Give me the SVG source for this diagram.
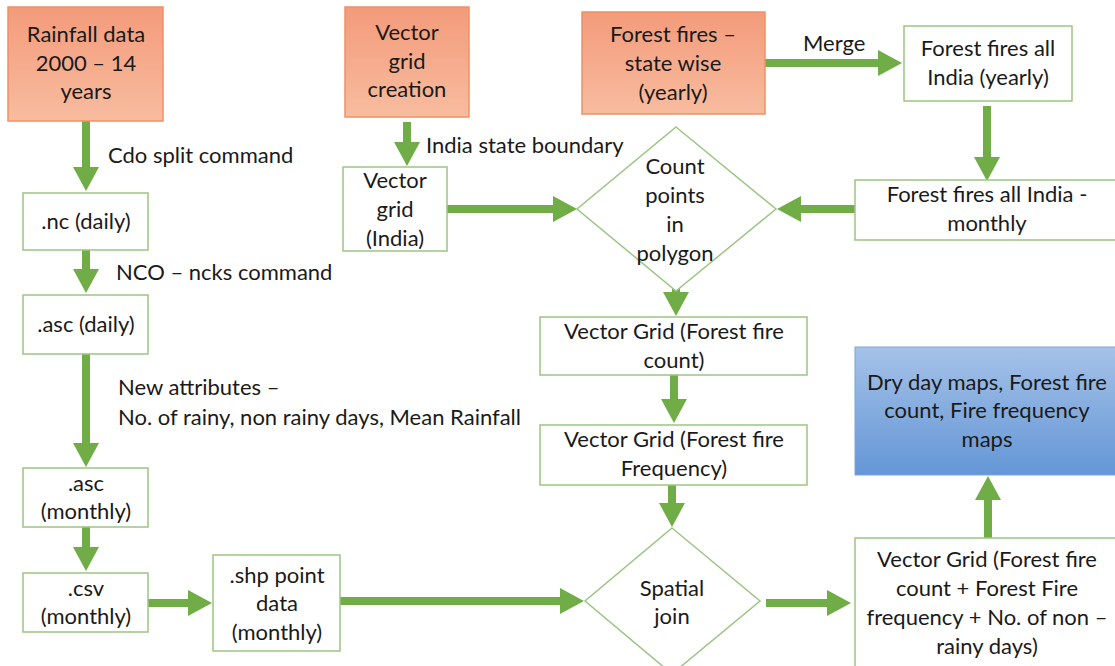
<svg xmlns="http://www.w3.org/2000/svg" width="1115" height="666" viewBox="0 0 1115 666">
<style>
text{font-family:Lato,"Liberation Sans",sans-serif;font-size:22px;fill:#1a1a1a}
.c{text-anchor:middle}
.box{fill:#fff;stroke:#9cc583;stroke-width:1.5}
.src{fill:url(#orange);stroke:#ee9066;stroke-width:1.5}
.out{fill:url(#blue);stroke:#7da4d6;stroke-width:1}
.ar{stroke:#70ad47;stroke-width:8;fill:none;marker-end:url(#ah)}
</style>
<defs>
<linearGradient id="orange" x1="0" y1="0" x2="0" y2="1">
<stop offset="0" stop-color="#f39b7b"/>
<stop offset="1" stop-color="#f8bc9f"/>
</linearGradient>
<linearGradient id="blue" x1="0" y1="0" x2="0" y2="1">
<stop offset="0" stop-color="#a5c2e8"/>
<stop offset="1" stop-color="#6496d6"/>
</linearGradient>
<marker id="ah" markerUnits="userSpaceOnUse" viewBox="0 -13 24 26" markerWidth="24" markerHeight="26" refX="1" refY="0" orient="auto">
<path d="M0,-13 L24,0 L0,13 Z" fill="#70ad47"/>
</marker>
</defs>

<g id="connectors">
<line class="ar" x1="86" y1="121" x2="86" y2="168"/>
<line class="ar" x1="86" y1="250" x2="86" y2="270"/>
<line class="ar" x1="86" y1="354" x2="86" y2="444"/>
<line class="ar" x1="86" y1="527" x2="86" y2="548"/>
<line class="ar" x1="148" y1="603" x2="189" y2="603"/>
<line class="ar" x1="340" y1="601" x2="561" y2="601"/>
<line class="ar" x1="407" y1="122" x2="407" y2="143"/>
<line class="ar" x1="447" y1="209" x2="554" y2="209"/>
<line class="ar" x1="765" y1="63" x2="879" y2="63"/>
<line class="ar" x1="987" y1="106" x2="987" y2="158"/>
<line class="ar" x1="855" y1="209" x2="800" y2="209"/>
<line class="ar" x1="676" y1="280" x2="676" y2="293"/>
<line class="ar" x1="674" y1="375" x2="674" y2="400"/>
<line class="ar" x1="672" y1="485" x2="672" y2="504"/>
<line class="ar" x1="766" y1="603" x2="828" y2="603"/>
<line class="ar" x1="988" y1="538" x2="988" y2="499"/>
</g>

<g id="rainfall">
<rect class="src" x="8" y="7" width="155" height="114"/>
<text class="c" x="86" y="42">Rainfall data</text>
<text class="c" x="86" y="71">2000 – 14</text>
<text class="c" x="86" y="99">years</text>
</g>
<text x="108" y="163">Cdo split command</text>
<g id="nc-daily">
<rect class="box" x="23" y="193" width="125" height="57"/>
<text class="c" x="86" y="229">.nc (daily)</text>
</g>
<text x="116" y="280">NCO – ncks command</text>
<g id="asc-daily">
<rect class="box" x="23" y="295" width="125" height="59"/>
<text class="c" x="86" y="332">.asc (daily)</text>
</g>
<text x="118" y="395">New attributes –</text>
<text x="118" y="425">No. of rainy, non rainy days, Mean Rainfall</text>
<g id="asc-monthly">
<rect class="box" x="23" y="468" width="125" height="59"/>
<text class="c" x="86" y="491">.asc</text>
<text class="c" x="86" y="519">(monthly)</text>
</g>
<g id="csv-monthly">
<rect class="box" x="23" y="573" width="125" height="59"/>
<text class="c" x="86" y="596">.csv</text>
<text class="c" x="86" y="624">(monthly)</text>
</g>
<g id="shp">
<rect class="box" x="213" y="555" width="127" height="96"/>
<text class="c" x="277" y="583">.shp point</text>
<text class="c" x="277" y="611">data</text>
<text class="c" x="277" y="640">(monthly)</text>
</g>
<g id="vector-grid-creation">
<rect class="src" x="345" y="7" width="124" height="110"/>
<text class="c" x="407" y="40">Vector</text>
<text class="c" x="407" y="69">grid</text>
<text class="c" x="407" y="97">creation</text>
</g>
<text x="426" y="153">India state boundary</text>
<g id="vector-grid-india">
<rect class="box" x="343" y="167" width="104" height="84"/>
<text class="c" x="395" y="188">Vector</text>
<text class="c" x="395" y="217">grid</text>
<text class="c" x="395" y="246">(India)</text>
</g>
<g id="forest-fires-state">
<rect class="src" x="582" y="12" width="183" height="102"/>
<text class="c" x="673" y="42">Forest fires –</text>
<text class="c" x="673" y="71">state wise</text>
<text class="c" x="673" y="100">(yearly)</text>
</g>
<text x="803" y="51">Merge</text>
<g id="forest-fires-yearly">
<rect class="box" x="904" y="26" width="168" height="75"/>
<text class="c" x="988" y="56">Forest fires all</text>
<text class="c" x="988" y="85">India (yearly)</text>
</g>
<g id="forest-fires-monthly">
<rect class="box" x="855" y="180" width="264" height="60"/>
<text class="c" x="987" y="202">Forest fires all India -</text>
<text class="c" x="987" y="231">monthly</text>
</g>
<g id="count-points">
<polygon class="box" points="676,127 776,209 676,291 577,209"/>
<text class="c" x="675" y="174">Count</text>
<text class="c" x="675" y="203">points</text>
<text class="c" x="675" y="232">in</text>
<text class="c" x="675" y="261">polygon</text>
</g>
<g id="vg-count">
<rect class="box" x="540" y="317" width="267" height="58"/>
<text class="c" x="674" y="339">Vector Grid (Forest fire</text>
<text class="c" x="674" y="368">count)</text>
</g>
<g id="vg-frequency">
<rect class="box" x="540" y="425" width="267" height="60"/>
<text class="c" x="674" y="447">Vector Grid (Forest fire</text>
<text class="c" x="674" y="476">Frequency)</text>
</g>
<g id="spatial-join">
<polygon class="box" points="672,528 760,601 672,674 585,601"/>
<text class="c" x="672" y="596">Spatial</text>
<text class="c" x="672" y="624">join</text>
</g>
<g id="dry-day-maps">
<rect class="out" x="855" y="347" width="264" height="128"/>
<text class="c" x="987" y="390">Dry day maps, Forest fire</text>
<text class="c" x="987" y="418">count, Fire frequency</text>
<text class="c" x="987" y="447">maps</text>
</g>
<g id="vg-combined">
<rect class="box" x="855" y="538" width="264" height="135"/>
<text class="c" x="987" y="567">Vector Grid (Forest fire</text>
<text class="c" x="987" y="596">count + Forest Fire</text>
<text class="c" x="987" y="625">frequency + No. of non –</text>
<text class="c" x="987" y="654">rainy days)</text>
</g>
</svg>
